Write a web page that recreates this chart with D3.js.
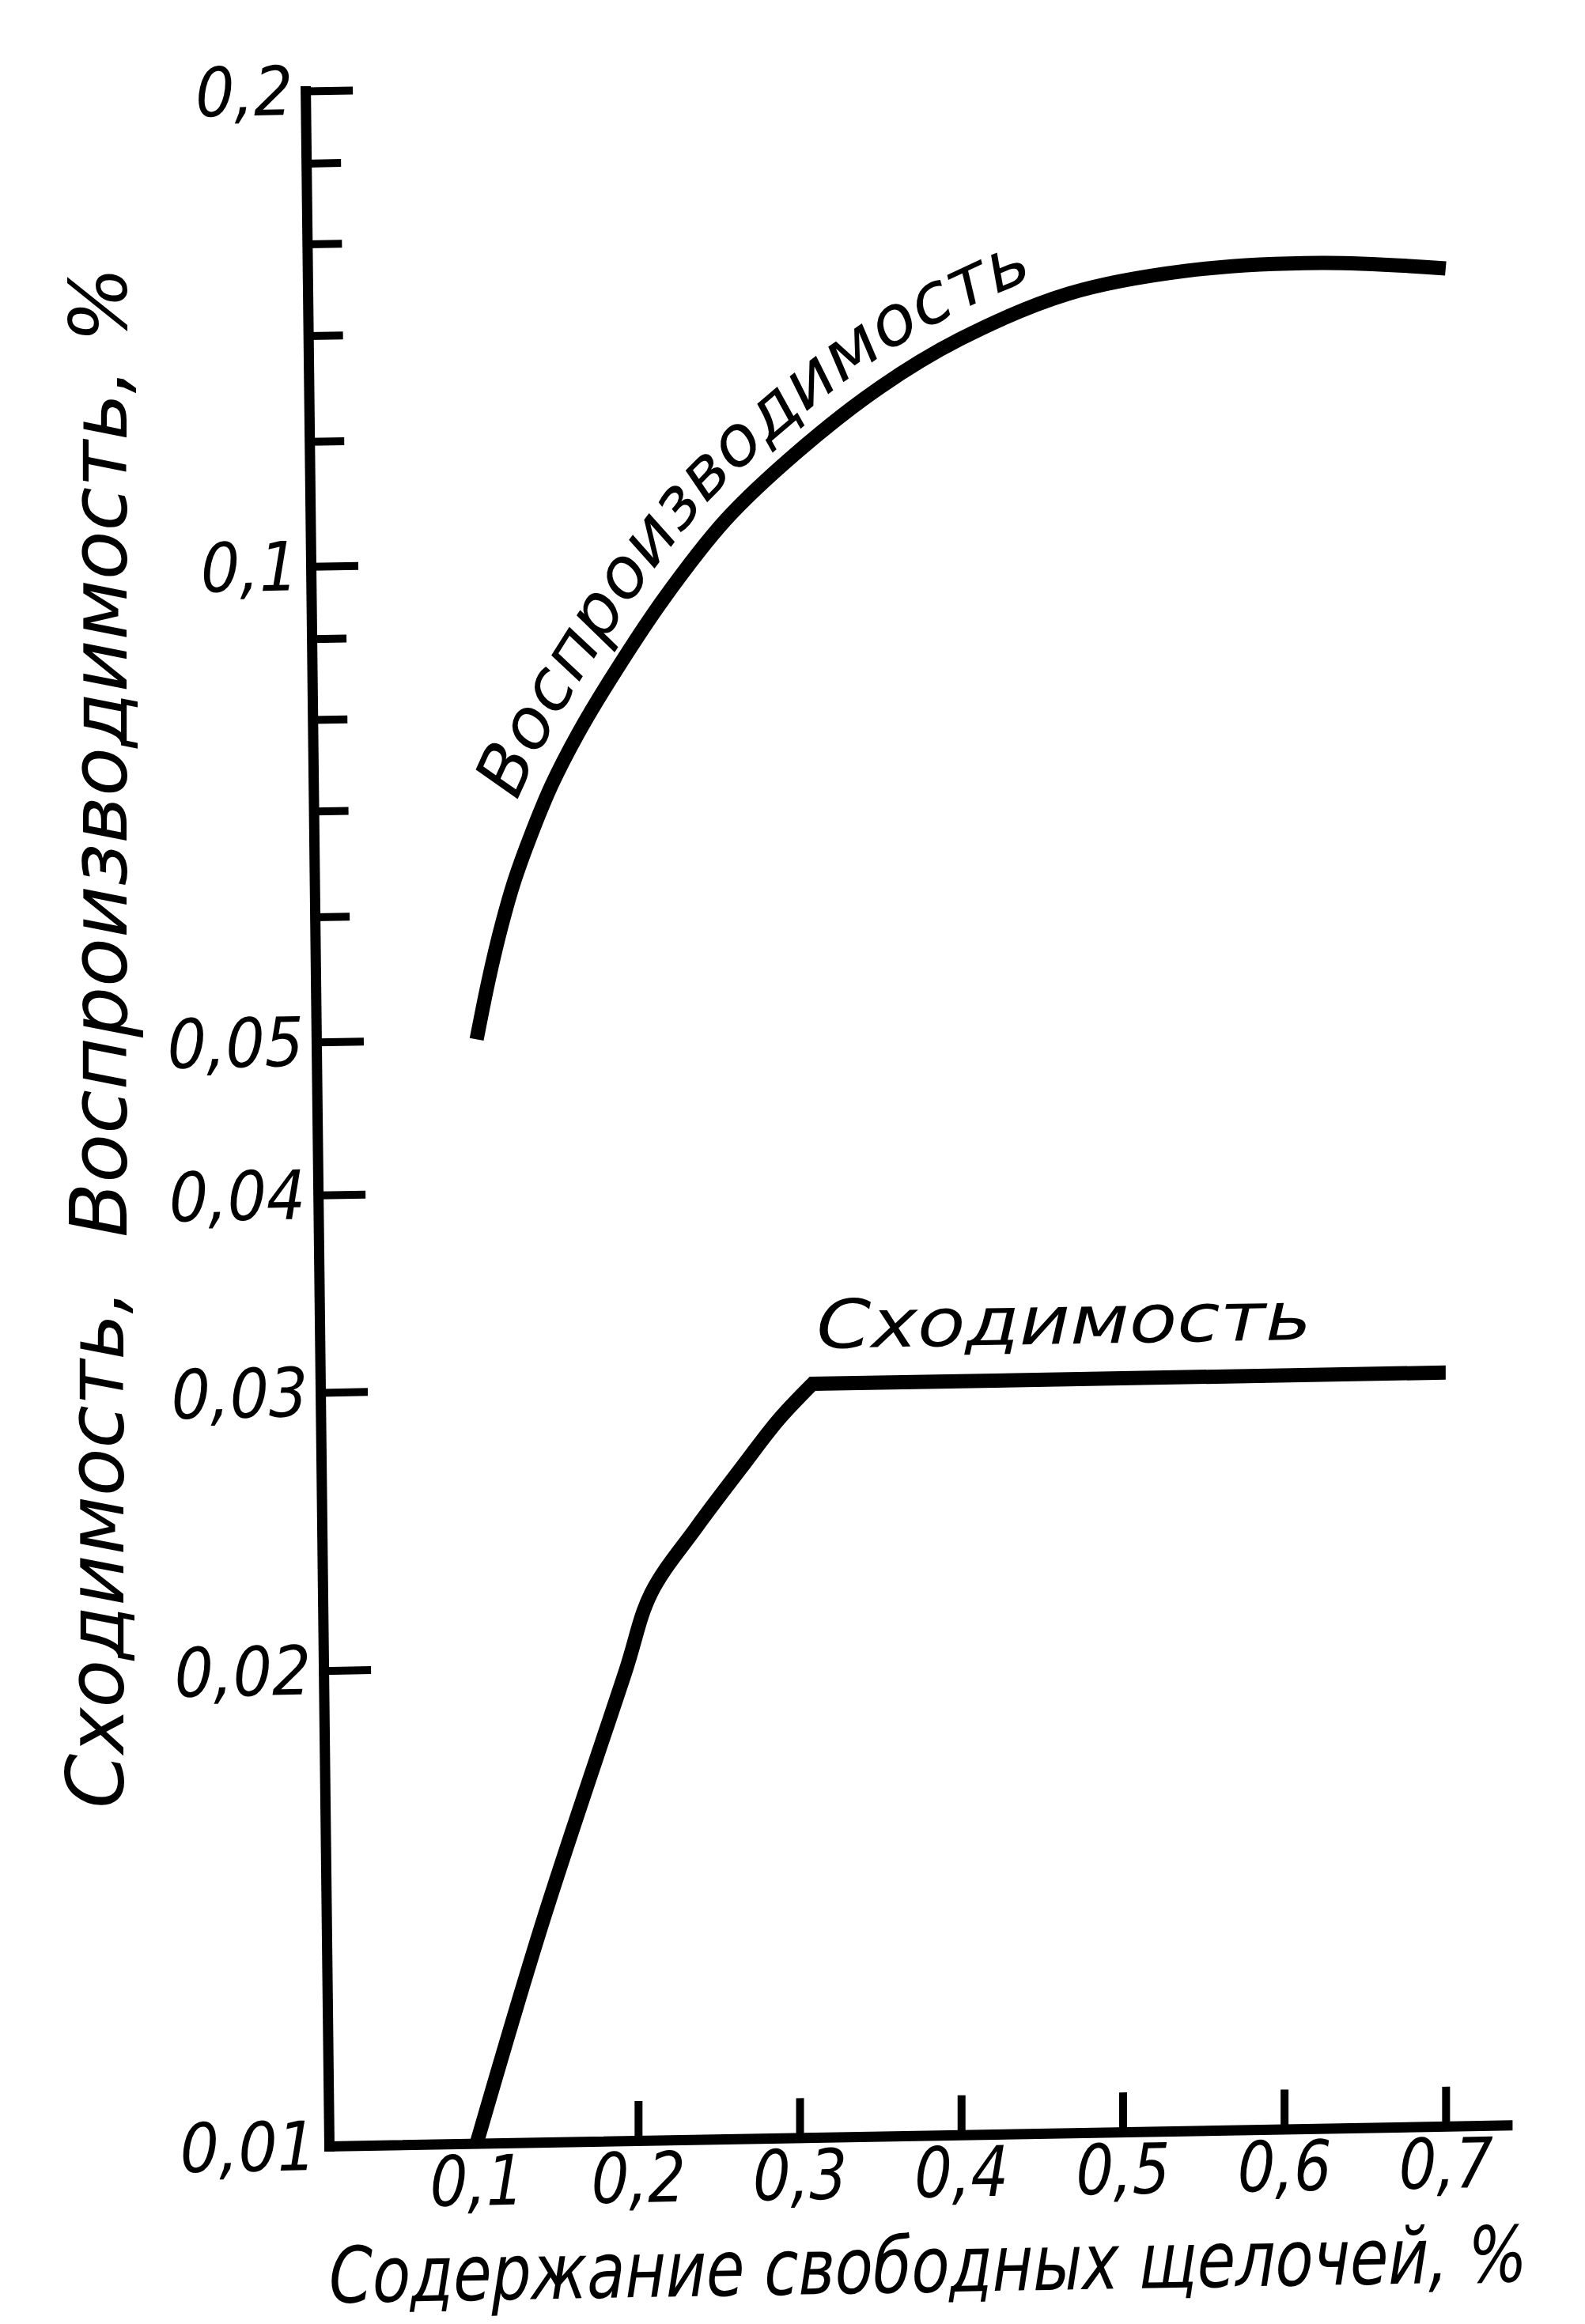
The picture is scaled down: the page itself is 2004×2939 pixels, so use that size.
<!DOCTYPE html>
<html>
<head>
<meta charset="utf-8">
<script src="https://cdn.jsdelivr.net/npm/d3@7"></script>
<style>
    body { margin: 0; background: #fff; }
    svg text { font-family: "DejaVu Sans", sans-serif; font-style: italic; fill: #000; }
</style>
</head>
<body>
<svg width="2004" height="2939"></svg>
<script>
// values
var yLabelValues = [0.2, 0.1, 0.05, 0.04, 0.03, 0.02, 0.01];
var yMinorValues = [0.18, 0.16, 0.14, 0.12, 0.09, 0.08, 0.07, 0.06];
var xLabelValues = [0.1, 0.2, 0.3, 0.4, 0.5, 0.6, 0.7];

var reprX = [0.1, 0.1076, 0.1153, 0.1233, 0.133, 0.1462, 0.1626, 0.1822, 0.215, 0.2545, 0.2998, 0.3498, 0.3991, 0.4665, 0.5397, 0.6227, 0.7];
var reprY = [0.05, 0.0546, 0.0589, 0.0629, 0.067, 0.0722, 0.0778, 0.084, 0.0943, 0.106, 0.117, 0.128, 0.137, 0.146, 0.1505, 0.1517, 0.150];

var convX = [0.1, 0.141, 0.192, 0.208, 0.236, 0.264, 0.287, 0.308, 0.7];
var convY = [0.01, 0.0138, 0.0198, 0.0222, 0.0244, 0.0266, 0.0285, 0.03, 0.03];

var xTitle = "Содержание свободных щелочей, %";
var yTitleLow = "Сходимость,";
var yTitleHigh = "Воспроизводимость, %";
var reprLabel = "Воспроизводимость";
var convLabel = "Сходимость";

(function () {
    var svg = d3.select("svg"),
        origin = {x: 416, y: 2714},
        shear = {a: 0.0115, b: -0.0178},
        xMin = 0.0086,
        xMax = 0.738;

    // the y axis sits a hair right of zero on the original drawing
    var scaleX = d3.scaleLinear().domain([xMin, xMax]).range([origin.x, origin.x + (xMax - xMin) * 2042]),
        scaleY = d3.scaleLog().domain([0.01, 0.2]).range([origin.y, 115]);

    var fmt = function (v) {
        return String(v).replace(".", ",");
    };

    // squeeze a text sideways about its anchor, the drafting letters are narrow
    var squeeze = function (sel, k, base) {
        sel.each(function () {
            d3.select(this).attr("transform", (base || "") + " scale(" + k + ",1)");
        });
    };
    var fitWidth = function (sel, width, base) {
        var w = sel.node().getComputedTextLength();
        squeeze(sel, width / w, base);
    };

    var around = function (m) {
        return "translate(" + origin.x + "," + origin.y + ") matrix(" + m.join(",") + ") translate(" + (-origin.x) + "," + (-origin.y) + ")";
    };

    // the scan rises a little to the right; the y axis line itself was drawn leaning
    var plot = svg.append("g").attr("transform", around([1, shear.b, 0, 1, 0, 0])),
        yFrame = svg.append("g").attr("transform", around([1, shear.b, shear.a, 1, 0, 0]));

    // y axis: minor ticks, then labelled ticks
    var minorY = yFrame.append("g")
        .attr("transform", "translate(" + origin.x + ",0)")
        .call(d3.axisLeft(scaleY).tickValues(yMinorValues).tickSize(-44).tickSizeOuter(0).tickFormat(""));
    minorY.select(".domain").remove();
    minorY.selectAll(".tick line").attr("stroke", "#000").attr("stroke-width", 10);

    var axisY = yFrame.append("g")
        .attr("transform", "translate(" + origin.x + ",0)")
        .call(d3.axisLeft(scaleY).tickValues(yLabelValues).tickSize(-60).tickSizeOuter(0).tickPadding(16).tickFormat(fmt))
        .attr("font-size", 86);
    axisY.selectAll(".tick line").attr("stroke", "#000").attr("stroke-width", 10);
    axisY.select(".domain").attr("stroke", "#000").attr("stroke-width", 13).attr("stroke-linecap", "square");
    axisY.selectAll(".tick text").attr("dy", "0.34em").attr("transform", "translate(-16,0) scale(0.9,1) translate(16,0)");

    // x axis
    var axisX = plot.append("g")
        .attr("transform", "translate(0," + origin.y + ")")
        .call(d3.axisBottom(scaleX).tickValues(xLabelValues).tickSize(-50).tickSizeOuter(0).tickPadding(0).tickFormat(fmt))
        .attr("font-size", 88);
    axisX.selectAll(".tick").filter(function (d) {
        return d === 0.1;
    }).select("line").remove();
    axisX.selectAll(".tick line").attr("stroke", "#000").attr("stroke-width", 10);
    axisX.select(".domain").attr("stroke", "#000").attr("stroke-width", 13).attr("stroke-linecap", "square");
    axisX.selectAll(".tick text")
        .attr("y", 78)
        .attr("dy", null);
    squeeze(axisX.selectAll(".tick text"), 0.85);

    // curves
    var toPoints = function (xs, ys) {
        return xs.map(function (x, i) {
            return {x: x, y: ys[i]};
        });
    };
    var repr = toPoints(reprX, reprY),
        conv = toPoints(convX, convY);

    var line = d3.line()
        .x(function (d) { return scaleX(d.x); })
        .y(function (d) { return scaleY(d.y); })
        .curve(d3.curveCatmullRom.alpha(0.5));

    var reprPath = plot.append("path")
        .attr("d", line(repr))
        .attr("fill", "none")
        .attr("stroke", "#000")
        .attr("stroke-width", 18);

    // rising part is curved, the plateau is a straight run with a sharp corner
    var bend = conv.slice(0, conv.length - 1),
        last = conv[conv.length - 1];
    plot.append("path")
        .attr("d", line(bend) + "L" + scaleX(last.x) + "," + scaleY(last.y))
        .attr("fill", "none")
        .attr("stroke", "#000")
        .attr("stroke-width", 18)
        .attr("stroke-linejoin", "miter");

    // label sitting over the plateau corner
    var corner = bend[bend.length - 1];
    var convText = plot.append("text")
        .attr("x", 0)
        .attr("y", 0)
        .attr("font-size", 85)
        .text(convLabel);
    fitWidth(convText, 626, "translate(" + (scaleX(corner.x) + 5) + "," + (scaleY(corner.y) - 45) + ")");

    // label running along the upper curve, on a parallel offset path
    var node = reprPath.node(),
        total = node.getTotalLength(),
        samples = [];
    for (var s = 0; s <= total; s += 4) {
        samples.push(node.getPointAtLength(s));
    }
    var gap = 32,
        fromX = scaleX(0.139),
        toX = scaleX(0.451);
    var offsetPts = [];
    samples.forEach(function (p, i) {
        var a = samples[Math.max(i - 1, 0)],
            b = samples[Math.min(i + 1, samples.length - 1)],
            dx = b.x - a.x,
            dy = b.y - a.y,
            n = Math.hypot(dx, dy) || 1;
        if (p.x >= fromX && p.x <= toX) {
            offsetPts.push([p.x + gap * dy / n, p.y - gap * dx / n]);
        }
    });
    var guide = plot.append("path")
        .attr("id", "reprGuide")
        .attr("d", d3.line()(offsetPts))
        .attr("fill", "none")
        .attr("stroke", "none");
    plot.append("text")
        .attr("font-size", 88)
        .append("textPath")
        .attr("href", "#reprGuide")
        .attr("textLength", guide.node().getTotalLength())
        .attr("lengthAdjust", "spacingAndGlyphs")
        .text(reprLabel);

    // x title, word by word so each piece follows the lean on its own
    var titleSize = 98,
        titleWidth = 1515,
        titleBase = 2912;
    var probe = plot.append("text").attr("font-size", titleSize).text(xTitle);
    var k = titleWidth / probe.node().getComputedTextLength();
    var words = xTitle.split(" "),
        starts = [],
        idx = 0;
    words.forEach(function (w) {
        starts.push(probe.node().getStartPositionOfChar(idx).x);
        idx += w.length + 1;
    });
    probe.remove();
    words.forEach(function (w, i) {
        plot.append("text")
            .attr("font-size", titleSize)
            .attr("transform", "translate(" + (origin.x + k * starts[i]) + "," + titleBase + ") scale(" + k + ",1)")
            .text(w);
    });

    var yLow = svg.append("text")
        .attr("font-size", 100)
        .text(yTitleLow);
    fitWidth(yLow, 657, "translate(156,2287) rotate(-90)");

    var yHigh = svg.append("text")
        .attr("font-size", 100)
        .text(yTitleHigh);
    fitWidth(yHigh, 1228, "translate(160,1565) rotate(-90)");
})();
</script>
</body>
</html>
